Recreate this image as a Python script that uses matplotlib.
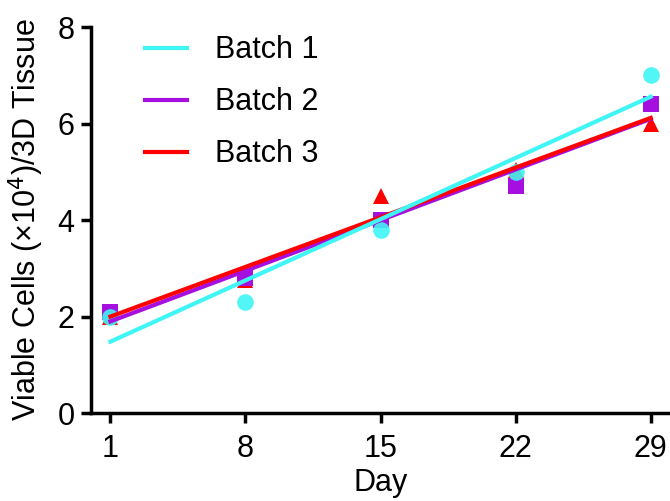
import numpy as np
import matplotlib
matplotlib.use("Agg")
import matplotlib.pyplot as plt

plt.rcParams['font.family'] = ['Liberation Sans', 'DejaVu Sans']

days = [1, 8, 15, 22, 29]
batch1 = [2.0, 2.3, 3.8, 5.0, 7.0]
batch2 = [2.1, 2.8, 4.0, 4.7, 6.4]
batch3 = [2.0, 2.75, 4.5, 5.05, 6.0]
labels = ["Batch 1", "Batch 2", "Batch 3"]
colors = ["#40F5F5", "#A50FE0", "#FF0000"]
markers = ["o", "s", "^"]

fig = plt.figure(figsize=(6.70, 5.01), dpi=100)
ax = fig.add_axes([0.136, 0.1756, 0.864, 0.770])

x = np.array(days, dtype=float)
series = [batch1, batch2, batch3]

# scatter points
for ys, c, m, z in zip(series[::-1], colors[::-1], markers[::-1], [3, 4, 5]):
    ax.plot(x, ys, linestyle='none', marker=m, markersize=12, color=c,
            markeredgewidth=0, zorder=z, alpha=0.9 if m == 'o' else 1.0)

# linear regression lines
order = [1, 2, 0]
for i in order:
    ys = np.array(series[i])
    k, b = np.polyfit(x, ys, 1)
    ax.plot([x[0], x[-1]], [k * x[0] + b, k * x[-1] + b], color=colors[i],
            lw=3.0, label=labels[i], zorder=6 + order.index(i))

handles, labs = ax.get_legend_handles_labels()
hmap = dict(zip(labs, handles))
leg = ax.legend([hmap[l] for l in labels], labels, loc='upper left',
                bbox_to_anchor=(0.045, 1.05), frameon=False, fontsize=22,
                handlelength=1.4, handletextpad=0.9, labelspacing=0.72)

ax.set_xlim(0, 30.0)
ax.set_ylim(0, 8)
ax.set_xticks(days)
ax.set_yticks([0, 2, 4, 6, 8])
ax.tick_params(axis='both', labelsize=22, width=2.5, length=7, direction='out', pad=5)
ax.tick_params(axis='x', pad=8)
for s in ['top', 'right']:
    ax.spines[s].set_visible(False)
for s in ['left', 'bottom']:
    ax.spines[s].set_linewidth(2.5)

ax.set_xlabel("Day", fontsize=22, labelpad=3)
ax.set_ylabel("Viable Cells (×10$^{4}$)/3D Tissue", fontsize=22, labelpad=8)

fig.savefig("out.png", dpi=100)
